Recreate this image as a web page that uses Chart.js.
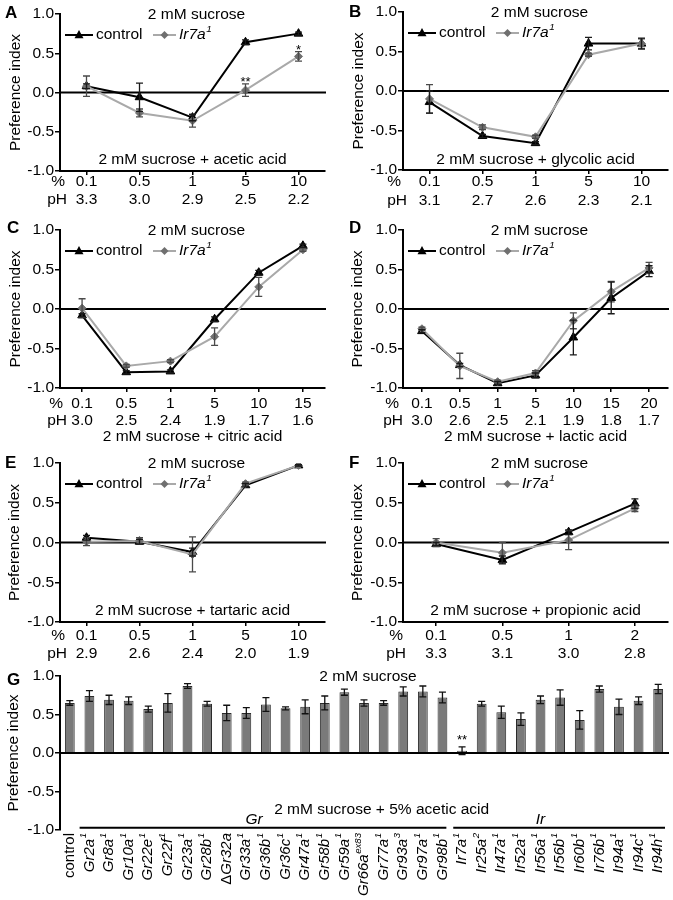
<!DOCTYPE html>
<html>
<head>
<meta charset="utf-8">
<script src="https://cdn.jsdelivr.net/npm/chart.js@4.4.1/dist/chart.umd.min.js"></script>
<style>
  body { margin: 0; background: #fff; width: 673px; height: 900px; position: relative; overflow: hidden; }
  canvas { position: absolute; }
</style>
</head>
<body>
<canvas id="cA"></canvas>
<canvas id="cB"></canvas>
<canvas id="cC"></canvas>
<canvas id="cD"></canvas>
<canvas id="cE"></canvas>
<canvas id="cF"></canvas>
<canvas id="cG"></canvas>
<script>
// ---- data ----
const pctA = ['0.1', '0.5', '1', '5', '10'];
const phA = ['3.3', '3.0', '2.9', '2.5', '2.2'];
const ctrlA = [0.08, -0.06, -0.32, 0.64, 0.75];
const ctrlErrA = [0.03, 0.18, 0.04, 0.03, 0.02];
const irA = [0.08, -0.26, -0.36, 0.03, 0.46];
const irErrA = [0.13, 0.05, 0.08, 0.08, 0.06];

const pctB = ['0.1', '0.5', '1', '5', '10'];
const phB = ['3.1', '2.7', '2.6', '2.3', '2.1'];
const ctrlB = [-0.14, -0.57, -0.66, 0.60, 0.60];
const ctrlErrB = [0.14, 0.02, 0.02, 0.08, 0.07];
const irB = [-0.10, -0.46, -0.58, 0.46, 0.60];
const irErrB = [0.18, 0.03, 0.02, 0.02, 0.06];

const pctC = ['0.1', '0.5', '1', '5', '10', '15'];
const phC = ['3.0', '2.5', '2.4', '1.9', '1.7', '1.6'];
const ctrlC = [-0.08, -0.80, -0.79, -0.13, 0.46, 0.80];
const ctrlErrC = [0.02, 0.02, 0.02, 0.03, 0.03, 0.02];
const irC = [0.01, -0.72, -0.66, -0.35, 0.28, 0.75];
const irErrC = [0.12, 0.02, 0.02, 0.11, 0.12, 0.02];

const pctD = ['0.1', '0.5', '1', '5', '10', '15', '20'];
const phD = ['3.0', '2.6', '2.5', '2.1', '1.9', '1.8', '1.7'];
const ctrlD = [-0.28, -0.71, -0.94, -0.84, -0.36, 0.14, 0.48];
const ctrlErrD = [0.02, 0.02, 0.02, 0.03, 0.22, 0.20, 0.07];
const irD = [-0.25, -0.72, -0.92, -0.81, -0.15, 0.22, 0.52];
const irErrD = [0.02, 0.16, 0.02, 0.03, 0.10, 0.13, 0.07];

const pctE = ['0.1', '0.5', '1', '5', '10'];
const phE = ['2.9', '2.6', '2.4', '2.0', '1.9'];
const ctrlE = [0.06, 0.01, -0.12, 0.72, 0.97];
const ctrlErrE = [0.03, 0.03, 0.05, 0.02, 0.01];
const irE = [0.01, 0.02, -0.15, 0.74, 0.97];
const irErrE = [0.05, 0.04, 0.22, 0.02, 0.01];

const pctF = ['0.1', '0.5', '1', '2'];
const phF = ['3.3', '3.1', '3.0', '2.8'];
const ctrlF = [-0.02, -0.22, 0.13, 0.49];
const ctrlErrF = [0.02, 0.05, 0.03, 0.06];
const irF = [0.00, -0.13, 0.03, 0.43];
const irErrF = [0.05, 0.13, 0.12, 0.04];

const genes = ['control', 'Gr2a', 'Gr8a', 'Gr10a', 'Gr22e', 'Gr22f', 'Gr23a', 'Gr28b', 'ΔGr32a', 'Gr33a',
  'Gr36b', 'Gr36c', 'Gr47a', 'Gr58b', 'Gr59a', 'Gr66a', 'Gr77a', 'Gr93a', 'Gr97a', 'Gr98b',
  'Ir7a', 'Ir25a', 'Ir47a', 'Ir52a', 'Ir56a', 'Ir56b', 'Ir60b', 'Ir76b', 'Ir94a', 'Ir94c', 'Ir94h'];
const alleles = ['', '1', '1', '1', '1', '1', '1', '1', '', '1',
  '1', '1', '1', '1', '1', 'ex83', '1', '3', '1', '1',
  '1', '2', '1', '1', '1', '1', '1', '1', '1', '1', '1'];
const piG = [0.65, 0.74, 0.69, 0.68, 0.57, 0.65, 0.87, 0.64, 0.52, 0.52,
  0.63, 0.58, 0.60, 0.65, 0.79, 0.65, 0.65, 0.80, 0.80, 0.72,
  0.03, 0.64, 0.53, 0.44, 0.69, 0.72, 0.43, 0.83, 0.60, 0.68, 0.83];
const errG = [0.03, 0.07, 0.06, 0.05, 0.04, 0.12, 0.03, 0.03, 0.10, 0.07,
  0.09, 0.02, 0.09, 0.09, 0.04, 0.04, 0.03, 0.06, 0.07, 0.07,
  0.05, 0.03, 0.08, 0.08, 0.05, 0.10, 0.12, 0.04, 0.10, 0.05, 0.06];

const acids = {
  cA: '2 mM sucrose + acetic acid', cB: '2 mM sucrose + glycolic acid', cC: '2 mM sucrose + citric acid',
  cD: '2 mM sucrose + lactic acid', cE: '2 mM sucrose + tartaric acid', cF: '2 mM sucrose + propionic acid'
};

// ---- layout (page pixels) ----
const layout = {
  cA: { box: [0, 0, 336, 215], area: [60, 14, 325, 171], letter: [5, 18, 'A'], titleX: 15.5, pre: [65, 67], rows: [11, 29], acidDy: -11 },
  cB: { box: [336, 0, 337, 215], area: [403, 12, 668, 170], letter: [349, 17, 'B'], titleX: 22.5, pre: [401, 407], rows: [12, 31], acidDy: -10 },
  cC: { box: [0, 212, 336, 232], area: [60, 230, 325, 388], letter: [7, 233, 'C'], titleX: 15.5, pre: [63, 67], rows: [16, 33], acidDy: 49 },
  cD: { box: [336, 212, 337, 232], area: [403, 230, 668, 388], letter: [349, 233, 'D'], titleX: 22, pre: [399, 403], rows: [16, 33], acidDy: 49 },
  cE: { box: [0, 445, 336, 218], area: [60, 463, 325, 622], letter: [5, 468, 'E'], titleX: 15, pre: [65, 67], rows: [14, 32], acidDy: -11 },
  cF: { box: [336, 445, 337, 218], area: [403, 463, 668, 622], letter: [349, 468, 'F'], titleX: 22, pre: [403, 406], rows: [14, 32], acidDy: -11 },
  cG: { box: [0, 655, 673, 245], area: [60, 676, 668, 830], letter: [7, 685, 'G'], titleX: 13.5 }
};
const stars = { cA: [[3, 0.17, '**'], [4, 0.58, '*']], cG: [[20, 0.2, '**']] };

const FAM = '"Liberation Sans", Arial, Helvetica, sans-serif';
const FS = 15.5;
Chart.defaults.font.family = FAM;
Chart.defaults.font.size = FS;
Chart.defaults.color = '#000';

function font(size, style, weight) {
  return (style || 'normal') + ' ' + (weight || 'normal') + ' ' + size + 'px ' + FAM;
}

function tri(ctx, x, y, r) {
  ctx.beginPath();
  ctx.moveTo(x, y - r);
  ctx.lineTo(x - r * 0.9, y + r * 0.65);
  ctx.lineTo(x + r * 0.9, y + r * 0.65);
  ctx.closePath();
  ctx.fill();
}
function dia(ctx, x, y, r) {
  ctx.beginPath();
  ctx.moveTo(x, y - r); ctx.lineTo(x + r, y); ctx.lineTo(x, y + r); ctx.lineTo(x - r, y);
  ctx.closePath();
  ctx.fill();
}

// italic base text + superscript, returns width
function supText(ctx, base, sup, x, y, size, draw) {
  let w = 0;
  let b = base;
  if (b.startsWith('Δ')) {
    ctx.font = font(size);
    if (draw) ctx.fillText('Δ', x, y);
    w += ctx.measureText('Δ').width;
    b = b.slice(1);
  }
  ctx.font = font(size, b === 'control' ? 'normal' : 'italic');
  if (draw) ctx.fillText(b, x + w, y);
  w += ctx.measureText(b).width;
  if (sup) {
    ctx.font = font(size * 0.64, 'italic');
    if (draw) ctx.fillText(sup, x + w + 0.5, y - size * 0.38);
    w += ctx.measureText(sup).width + 0.5;
  }
  return w;
}

const errorBars = {
  id: 'errorBars',
  afterDatasetsDraw(chart) {
    const { ctx, scales: { y } } = chart;
    chart.data.datasets.forEach((ds, di) => {
      if (!ds.errors) return;
      const meta = chart.getDatasetMeta(di);
      ctx.save();
      ctx.strokeStyle = ds.errColor || '#000';
      ctx.lineWidth = 1.3;
      meta.data.forEach((el, i) => {
        const e = ds.errors[i];
        if (!e) return;
        const x = el.x;
        const yt = y.getPixelForValue(ds.data[i] + e);
        const yb = y.getPixelForValue(ds.data[i] - e);
        ctx.beginPath();
        ctx.moveTo(x, yt); ctx.lineTo(x, yb);
        ctx.moveTo(x - 3.5, yt); ctx.lineTo(x + 3.5, yt);
        ctx.moveTo(x - 3.5, yb); ctx.lineTo(x + 3.5, yb);
        ctx.stroke();
      });
      ctx.restore();
    });
  }
};

function zeroLine(chart) {
  const { ctx, chartArea: a, scales: { y } } = chart;
  const y0 = y.getPixelForValue(0);
  ctx.save();
  ctx.strokeStyle = '#000';
  ctx.lineWidth = 2;
  ctx.beginPath(); ctx.moveTo(a.left, y0); ctx.lineTo(a.right + 1, y0); ctx.stroke();
  ctx.restore();
}

const decor = {
  id: 'decor',
  beforeDatasetsDraw(chart) {
    if (chart.config.type === 'line') zeroLine(chart);
  },
  afterDatasetsDraw(chart) {
    if (chart.config.type === 'bar') zeroLine(chart);
  },
  afterDraw(chart) {
    const id = chart.canvas.id;
    const L = layout[id];
    const ox = L.box[0], oy = L.box[1];
    const { ctx, chartArea: a, scales: { x, y } } = chart;
    ctx.save();
    ctx.fillStyle = '#000';
    // panel letter
    ctx.font = font(17, 'normal', 'bold');
    ctx.textAlign = 'left'; ctx.textBaseline = 'alphabetic';
    ctx.fillText(L.letter[2], L.letter[0] - ox, L.letter[1] - oy);
    // top title
    ctx.font = font(FS);
    ctx.textAlign = 'center'; ctx.textBaseline = 'middle';
    ctx.fillText('2 mM sucrose', (a.left + a.right) / 2 + 4, a.top + 1);
    // stars
    (stars[id] || []).forEach(([i, v, s]) => {
      ctx.font = font(13);
      ctx.fillText(s, x.getPixelForValue(i), y.getPixelForValue(v) + 3);
    });
    if (chart.config.type === 'line') {
      const d = acids[id];
      ctx.font = font(FS);
      ctx.fillText(d, (a.left + a.right) / 2, a.bottom + L.acidDy);
      // x labels
      const pct = chart.data.labels;
      const ph = chart.data.ph;
      pct.forEach((t, i) => {
        const px = x.getPixelForValue(i);
        ctx.fillText(t, px, a.bottom + L.rows[0]);
        ctx.fillText(ph[i], px, a.bottom + L.rows[1]);
      });
      ctx.textAlign = 'right';
      ctx.fillText('%', L.pre[0] - ox, a.bottom + L.rows[0]);
      ctx.fillText('pH', L.pre[1] - ox, a.bottom + L.rows[1]);
      // legend
      const ly = a.top + 21, lx = a.left;
      ctx.strokeStyle = '#000'; ctx.lineWidth = 2;
      ctx.beginPath(); ctx.moveTo(lx + 5, ly); ctx.lineTo(lx + 33, ly); ctx.stroke();
      tri(ctx, lx + 19, ly, 5);
      ctx.textAlign = 'left';
      ctx.font = font(FS);
      ctx.fillText('control', lx + 36, ly);
      ctx.strokeStyle = '#a9a9a9';
      ctx.beginPath(); ctx.moveTo(lx + 93, ly); ctx.lineTo(lx + 116, ly); ctx.stroke();
      ctx.fillStyle = '#6f6f6f';
      dia(ctx, lx + 104.5, ly, 4);
      ctx.fillStyle = '#000';
      supText(ctx, 'Ir7a', '1', lx + 119, ly, FS, true);
    } else {
      ctx.font = font(FS);
      ctx.textAlign = 'center';
      ctx.fillText('2 mM sucrose + 5% acetic acid', x.getPixelForValue(15.9), y.getPixelForValue(-0.74));
      ctx.font = font(FS, 'italic');
      ctx.fillText('Gr', x.getPixelForValue(9.4), y.getPixelForValue(-0.86));
      ctx.fillText('Ir', x.getPixelForValue(24), y.getPixelForValue(-0.86));
      const gy = y.getPixelForValue(-0.97);
      ctx.strokeStyle = '#000'; ctx.lineWidth = 2;
      ctx.beginPath();
      ctx.moveTo(x.getPixelForValue(0.5), gy); ctx.lineTo(x.getPixelForValue(19.2), gy);
      ctx.moveTo(x.getPixelForValue(19.55), gy); ctx.lineTo(a.right - 3, gy);
      ctx.stroke();
      // rotated gene labels
      const top = a.bottom + 3;
      ctx.textAlign = 'left'; ctx.textBaseline = 'middle';
      chart.data.labels.forEach((g, i) => {
        const px = x.getPixelForValue(i);
        const w = supText(ctx, g, alleles[i], 0, 0, 15, false);
        ctx.save();
        ctx.translate(px, top);
        ctx.rotate(-Math.PI / 2);
        supText(ctx, g, alleles[i], -w, 0, 15, true);
        ctx.restore();
      });
    }
    ctx.restore();
  }
};

function yScale(L) {
  return {
    min: -1, max: 1,
    ticks: { stepSize: 0.5, padding: 1, callback: v => v.toFixed(1), color: '#000', font: { size: FS } },
    grid: { display: true, drawOnChartArea: false, drawTicks: true, tickLength: 5, color: '#000', lineWidth: 1.5 },
    border: { display: true, color: '#000', width: 2 },
    title: { display: true, text: 'Preference index', color: '#000', font: { size: FS }, padding: { top: L.titleX - 9.3, bottom: 0 } },
    afterFit(s) { s.width = L.area[0] - L.box[0]; }
  };
}

function setupCanvas(id) {
  const L = layout[id];
  const cv = document.getElementById(id);
  cv.width = L.box[2]; cv.height = L.box[3];
  cv.style.left = L.box[0] + 'px'; cv.style.top = L.box[1] + 'px';
  return cv;
}

function linePanel(id, pct, ph, ctrl, ctrlErr, ir, irErr) {
  const L = layout[id];
  const cv = setupCanvas(id);
  return new Chart(cv, {
    type: 'line',
    data: {
      labels: pct,
      ph: ph,
      datasets: [
        { label: 'Ir7a', data: ir, errors: irErr, errColor: '#4a4a4a', order: 1,
          borderColor: '#a9a9a9', borderWidth: 2, pointStyle: 'rectRot', pointRadius: 4,
          pointBackgroundColor: '#6f6f6f', pointBorderColor: '#6f6f6f', pointBorderWidth: 1 },
        { label: 'control', data: ctrl, errors: ctrlErr, errColor: '#1a1a1a', order: 2,
          borderColor: '#000', borderWidth: 2, pointStyle: 'triangle', pointRadius: 5,
          pointBackgroundColor: '#000', pointBorderColor: '#000', pointBorderWidth: 1 }
      ]
    },
    options: {
      responsive: false, animation: false,
      layout: { autoPadding: false, padding: { left: 0, top: L.area[1] - L.box[1], right: L.box[0] + L.box[2] - L.area[2], bottom: 0 } },
      plugins: { legend: { display: false }, tooltip: { enabled: false } },
      scales: {
        x: {
          type: 'category', offset: true,
          grid: { display: true, drawOnChartArea: false, drawTicks: true, tickLength: 4, color: '#000', lineWidth: 1.5, offset: false },
          border: { display: true, color: '#000', width: 2 },
          ticks: { display: false },
          afterFit(s) { s.height = L.box[1] + L.box[3] - L.area[3]; }
        },
        y: yScale(L)
      }
    },
    plugins: [errorBars, decor]
  });
}

linePanel('cA', pctA, phA, ctrlA, ctrlErrA, irA, irErrA);
linePanel('cB', pctB, phB, ctrlB, ctrlErrB, irB, irErrB);
linePanel('cC', pctC, phC, ctrlC, ctrlErrC, irC, irErrC);
linePanel('cD', pctD, phD, ctrlD, ctrlErrD, irD, irErrD);
linePanel('cE', pctE, phE, ctrlE, ctrlErrE, irE, irErrE);
linePanel('cF', pctF, phF, ctrlF, ctrlErrF, irF, irErrF);

(function () {
  const L = layout.cG;
  const cv = setupCanvas('cG');
  new Chart(cv, {
    type: 'bar',
    data: {
      labels: genes,
      datasets: [{ data: piG, errors: errG, errColor: '#111', backgroundColor: '#7a7a7a', borderColor: '#2b2b2b', borderWidth: 1,
        categoryPercentage: 1, barPercentage: 0.5 }]
    },
    options: {
      responsive: false, animation: false,
      layout: { autoPadding: false, padding: { left: 0, top: L.area[1] - L.box[1], right: L.box[0] + L.box[2] - L.area[2], bottom: 0 } },
      plugins: { legend: { display: false }, tooltip: { enabled: false } },
      scales: {
        x: {
          grid: { display: false },
          border: { display: false },
          ticks: { display: false },
          afterFit(s) { s.height = L.box[1] + L.box[3] - L.area[3]; }
        },
        y: yScale(L)
      }
    },
    plugins: [errorBars, decor]
  });
})();
</script>
</body>
</html>
